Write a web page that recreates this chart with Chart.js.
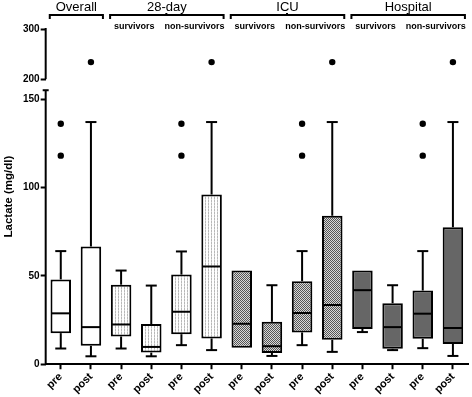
<!DOCTYPE html>
<html>
<head>
<meta charset="utf-8">
<script src="https://cdn.jsdelivr.net/npm/chart.js@4.4.1/dist/chart.umd.min.js"></script>
<style>
  html, body { margin: 0; padding: 0; background: #fff; }
</style>
</head>
<body>
<canvas id="lactateChart" width="472" height="397"></canvas>
<script>
// groups across the top, with the index range of the boxes under each
const groups = ['Overall', '28-day', 'ICU', 'Hospital'];
const groupFirst = [0, 2, 6, 10];
const groupLast = [1, 5, 9, 13];
const subgroups = ['survivors', 'non-survivors'];

const labels = ['pre', 'post', 'pre', 'post', 'pre', 'post', 'pre', 'post',
                'pre', 'post', 'pre', 'post', 'pre', 'post'];

// box plot values (mg/dl)
const whiskerLow  = [8.9, 4.5, 8.9, 4.5, 10.8, 8.0, 9.3, 4.7, 10.8, 7.0, 18.2, 8.0, 9.1, 4.7];
const q1          = [17.6, 10.4, 15.7, 6.6, 17.0, 14.6, 9.3, 6.4, 18.0, 13.8, 20.0, 8.7, 14.4, 11.5];
const median      = [28.8, 21.0, 22.5, 9.8, 29.7, 55.3, 22.9, 10.2, 29.0, 33.5, 41.9, 21.0, 28.6, 20.5];
const q3          = [48.0, 66.6, 45.0, 22.7, 50.7, 96.0, 53.0, 24.0, 47.0, 84.0, 53.0, 34.5, 41.7, 77.5];
const whiskerHigh = [64, 137, 53, 44.5, 63.8, 137, 53, 44.7, 64, 137, 53, 44.7, 64, 137];

// outliers
const outlierTop  = [null, 234, null, null, null, 234, null, null, null, 234, null, null, null, 234];
const outlierMid  = [136, null, null, null, 136, null, null, null, 136, null, null, null, 136, null];
const outlierLow  = [118, null, null, null, 118, null, null, null, 118, null, null, null, 118, null];

const lowTicks = [0, 50, 100, 150];
const highTicks = [200, 300];

function makePattern(w, h, bg, dots) {
  const c = document.createElement('canvas');
  c.width = w; c.height = h;
  const g = c.getContext('2d');
  g.fillStyle = bg;
  g.fillRect(0, 0, w, h);
  dots.forEach(([x, y, col]) => { g.fillStyle = col; g.fillRect(x, y, 1, 1); });
  return document.getElementById('lactateChart').getContext('2d').createPattern(c, 'repeat');
}

const dotted = makePattern(3, 3, '#ffffff', [[1, 0, '#b8b8b8'], [1, 1, '#d8d8d8'], [1, 2, '#b8b8b8']]);
const checked = makePattern(2, 2, '#d8d8d8', [[0, 0, '#555555'], [1, 1, '#555555']]);
const groupFill = ['#ffffff', dotted, checked, '#666666'];
const boxFill = labels.map((_, i) => groupFill[groupFirst.filter(f => f <= i).length - 1]);

const boxExtras = {
  id: 'boxExtras',
  afterDatasetsDraw(chart) {
    const { ctx, chartArea, scales: { x, yLo, yHi } } = chart;
    const bars = chart.getDatasetMeta(0).data;
    const line = (x1, y1, x2, y2) => { ctx.beginPath(); ctx.moveTo(x1, y1); ctx.lineTo(x2, y2); ctx.stroke(); };
    ctx.save();
    ctx.strokeStyle = '#000';
    ctx.lineWidth = 2;

    labels.forEach((_, i) => {
      const cx = x.getPixelForValue(i);
      const half = bars[i].width / 2;
      const cap = 5.5;
      const yHiW = yLo.getPixelForValue(whiskerHigh[i]);
      const yLoW = yLo.getPixelForValue(whiskerLow[i]);
      const yQ1 = yLo.getPixelForValue(q1[i]);
      const yQ3 = yLo.getPixelForValue(q3[i]);
      const yMed = yLo.getPixelForValue(median[i]);
      if (whiskerHigh[i] > q3[i]) {
        line(cx, yQ3, cx, yHiW);
        line(cx - cap, yHiW, cx + cap, yHiW);
      }
      if (whiskerLow[i] < q1[i]) {
        line(cx, yQ1, cx, yLoW);
        line(cx - cap, yLoW, cx + cap, yLoW);
      }
      line(cx - half + 1, yMed, cx + half - 1, yMed);
    });

    // broken y axis
    const ax = chartArea.left;
    line(ax, yHi.getPixelForValue(300) - 1, ax, yHi.getPixelForValue(200));
    line(ax, yLo.getPixelForValue(155), ax, yLo.getPixelForValue(0));
    line(ax - 3, yLo.getPixelForValue(155), ax + 3, yLo.getPixelForValue(155));
    ctx.restore();
  },
  afterDraw(chart) {
    const { ctx, chartArea, scales: { x } } = chart;
    ctx.save();
    ctx.fillStyle = '#000';
    ctx.strokeStyle = '#000';
    ctx.lineWidth = 2;
    ctx.textAlign = 'center';
    ctx.textBaseline = 'middle';

    groups.forEach((name, g) => {
      const x1 = x.getPixelForValue(groupFirst[g]) - 11;
      const x2 = x.getPixelForValue(groupLast[g]) + 12;
      const by = 15;
      ctx.beginPath();
      ctx.moveTo(x1, by + 4);
      ctx.lineTo(x1, by);
      ctx.lineTo(x2, by);
      ctx.lineTo(x2, by + 4);
      ctx.stroke();
      ctx.font = '13px "Liberation Sans", Arial, sans-serif';
      ctx.fillText(name, (x1 + x2) / 2, 7);
      if (groupLast[g] - groupFirst[g] > 1) {
        const mid = (x.getPixelForValue(groupFirst[g] + 1) + x.getPixelForValue(groupFirst[g] + 2)) / 2;
        ctx.beginPath();
        ctx.moveTo(mid, by);
        ctx.lineTo(mid, by - 2);
        ctx.stroke();
        ctx.font = 'bold 9px "Liberation Sans", Arial, sans-serif';
        subgroups.forEach((s, k) => {
          const a = groupFirst[g] + 2 * k;
          const cx = (x.getPixelForValue(a) + x.getPixelForValue(a + 1)) / 2;
          ctx.fillText(s, cx - 2, 27);
        });
      }
    });

    // y axis title
    ctx.translate(9, (chartArea.top + chartArea.bottom) / 2);
    ctx.rotate(-Math.PI / 2);
    ctx.font = 'bold 11.5px "Liberation Sans", Arial, sans-serif';
    ctx.fillText('Lactate (mg/dl)', 0, 0);
    ctx.restore();
  }
};

const tickFont = { family: '"Liberation Sans", Arial, sans-serif', weight: 'bold', size: 10 };

const outlierSet = (data, axis) => ({
  type: 'line',
  data: data,
  yAxisID: axis,
  showLine: false,
  pointRadius: 3.2,
  pointBackgroundColor: '#000',
  pointBorderColor: '#000',
  pointBorderWidth: 0
});

new Chart(document.getElementById('lactateChart'), {
  type: 'bar',
  data: {
    labels: labels,
    datasets: [
      {
        data: labels.map((_, i) => [q1[i], q3[i]]),
        yAxisID: 'yLo',
        backgroundColor: boxFill,
        borderColor: '#000',
        borderWidth: 2,
        borderSkipped: false,
        barPercentage: 0.68,
        categoryPercentage: 1.0
      },
      outlierSet(outlierTop, 'yHi'),
      outlierSet(outlierMid, 'yLo'),
      outlierSet(outlierLow, 'yLo')
    ]
  },
  options: {
    responsive: false,
    animation: false,
    layout: { padding: { top: 29, left: 22, right: 0, bottom: 0 } },
    plugins: { legend: { display: false }, tooltip: { enabled: false } },
    scales: {
      x: {
        grid: { offset: false, drawOnChartArea: false, tickLength: 5, tickColor: '#000', tickWidth: 2 },
        border: { display: true, color: '#000', width: 2 },
        ticks: { color: '#000', font: { ...tickFont, size: 11 }, minRotation: 45, maxRotation: 45, autoSkip: false, padding: 1 }
      },
      // the lower axis is listed first so that it is stacked under the upper one
      yLo: {
        type: 'linear',
        position: 'left',
        stack: 'lactate',
        stackWeight: 273,
        min: 0,
        max: 155,
        afterBuildTicks: s => { s.ticks = lowTicks.map(v => ({ value: v })); },
        grid: { drawOnChartArea: false, tickLength: 5, tickColor: '#000', tickWidth: 2 },
        border: { display: false },
        ticks: { color: '#000', font: tickFont, padding: 1 }
      },
      yHi: {
        type: 'linear',
        position: 'left',
        stack: 'lactate',
        stackWeight: 61,
        min: 178,
        max: 300,
        afterBuildTicks: s => { s.ticks = highTicks.map(v => ({ value: v })); },
        grid: { drawOnChartArea: false, tickLength: 5, tickColor: '#000', tickWidth: 2 },
        border: { display: false },
        ticks: { color: '#000', font: tickFont, padding: 1 }
      }
    }
  },
  plugins: [boxExtras]
});
</script>
</body>
</html>
